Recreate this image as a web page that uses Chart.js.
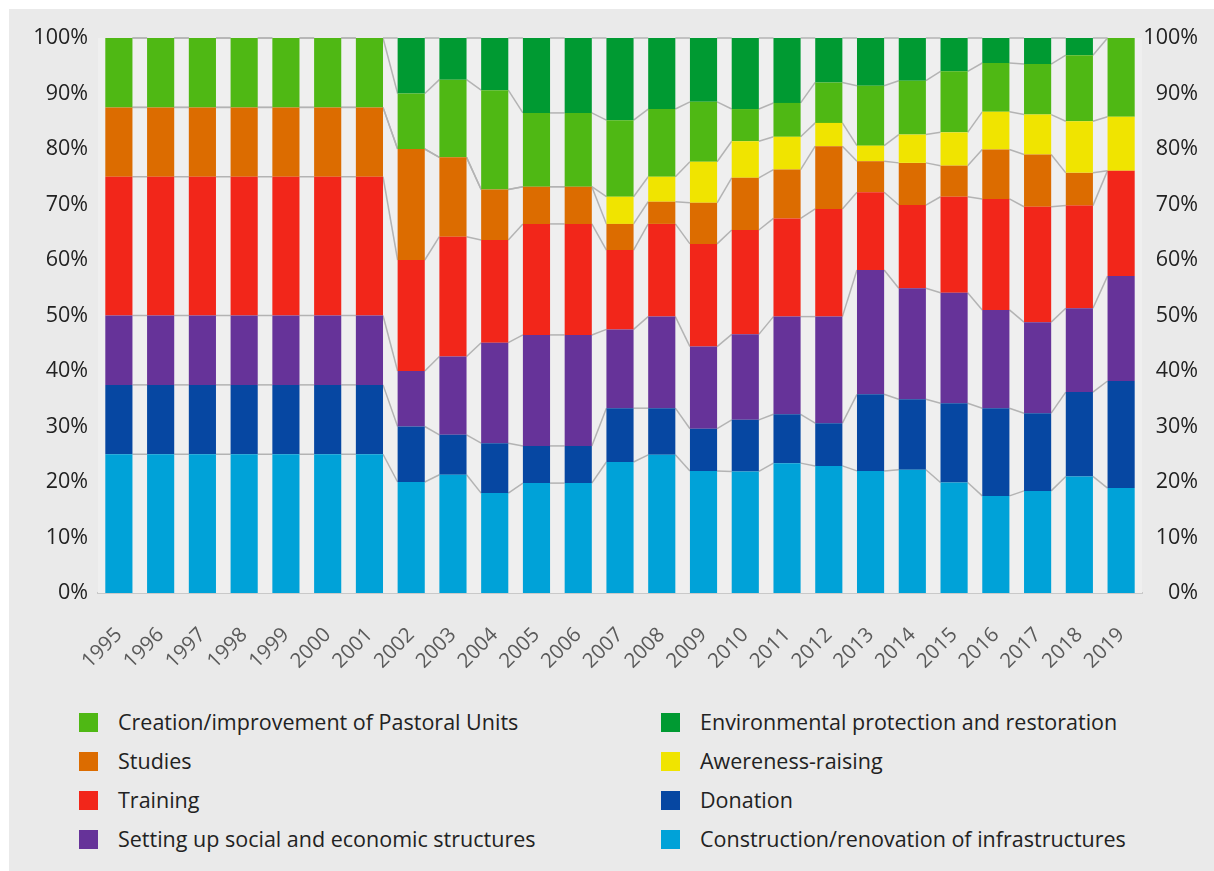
<!DOCTYPE html>
<html><head><meta charset="utf-8">
<script src="https://cdn.jsdelivr.net/npm/chart.js@4.4.1/dist/chart.umd.min.js"></script>
<style>
html,body{margin:0;padding:0;background:#fff;width:1214px;height:871px;overflow:hidden;}
#bg{position:absolute;left:9px;top:9px;width:1205px;height:862px;background:#eaeaea;}
#wrap{position:absolute;left:0;top:0;width:1214px;height:700px;}
.leg{position:absolute;font-family:'Open Sans';font-size:21.5px;color:#222;line-height:26px;white-space:nowrap;}
.sw{position:absolute;width:19px;height:19px;}
</style></head>
<body>
<div id="bg"></div>
<div id="wrap"><canvas id="c" width="1214" height="700"></canvas></div>
<div id="legend"></div>
<script>
const years = ['1995','1996','1997','1998','1999','2000','2001','2002','2003','2004','2005','2006','2007','2008','2009','2010','2011','2012','2013','2014','2015','2016','2017','2018','2019'];
const yTicks = ['0%','10%','20%','30%','40%','50%','60%','70%','80%','90%','100%'];

const construction = [25,25,25,25,25,25,25,20,21.3,18,19.8,19.8,23.6,24.9,22,21.9,23.4,22.9,22,22.2,19.9,17.5,18.4,21,18.9];
const donation     = [12.5,12.5,12.5,12.5,12.5,12.5,12.5,10,7.2,9,6.7,6.7,9.7,8.4,7.6,9.3,8.8,7.7,13.8,12.7,14.3,15.8,14,15.2,19.3];
const settingUp    = [12.5,12.5,12.5,12.5,12.5,12.5,12.5,10,14.1,18.1,20,20,14.2,16.5,14.8,15.4,17.6,19.2,22.4,20,19.9,17.7,16.4,15.1,18.9];
const training     = [25,25,25,25,25,25,25,20,21.6,18.5,20,20,14.3,16.7,18.5,18.8,17.7,19.4,14,15,17.3,20,20.8,18.5,19];
const studies      = [12.5,12.5,12.5,12.5,12.5,12.5,12.5,20,14.3,9.1,6.7,6.7,4.7,4.0,7.4,9.4,8.8,11.3,5.6,7.6,5.6,8.9,9.4,5.9,0];
const awareness    = [0,0,0,0,0,0,0,0,0,0,0,0,4.9,4.5,7.4,6.6,5.9,4.2,2.8,5.1,6,6.8,7.2,9.3,9.7];
const pastoral     = [12.5,12.5,12.5,12.5,12.5,12.5,12.5,10,14,17.9,13.3,13.3,13.8,12.2,10.8,5.8,6.1,7.3,10.8,9.7,11,8.8,9.1,11.9,14.2];
const environment  = [0,0,0,0,0,0,0,10,7.5,9.4,13.5,13.5,14.8,12.8,11.5,12.8,11.7,8,8.6,7.7,6,4.5,4.7,3.1,0];

const seriesNames = ['Construction/renovation of infrastructures','Donation','Setting up social and economic structures','Training','Studies','Awereness-raising','Creation/improvement of Pastoral Units','Environmental protection and restoration'];
const seriesColors = ['#00a2d8','#0647a2','#663399','#f2261a','#dc6c00','#f0e400','#4fb814','#009a32'];
const seriesData = [construction,donation,settingUp,training,studies,awareness,pastoral,environment];

const legendLeft = [6,4,3,2];
const legendRight = [7,5,1,0];

const FONT = 'Open Sans';

const connectors = {
  id:'connectors',
  beforeDatasetsDraw(chart){
    const ctx = chart.ctx, a = chart.chartArea;
    ctx.save();
    ctx.fillStyle = '#efefef';
    ctx.fillRect(a.left, a.top, a.right-a.left, a.bottom-a.top);
    ctx.strokeStyle = '#b3b3b3';
    ctx.lineWidth = 1.5;
    chart.data.datasets.forEach((ds, d) => {
      const meta = chart.getDatasetMeta(d);
      for (let i = 0; i < meta.data.length - 1; i++) {
        const e1 = meta.data[i], e2 = meta.data[i+1];
        ctx.beginPath();
        ctx.moveTo(e1.x + e1.width/2, e1.y);
        ctx.lineTo(e2.x - e2.width/2, e2.y);
        ctx.stroke();
      }
    });
    ctx.restore();
  }
};

const yCommon = {
  type:'linear', stacked:true, min:0, max:100,
  grid:{display:false, drawTicks:false},
  border:{display:false},
  ticks:{stepSize:10, padding:10, color:'#222', font:{family:FONT,size:21.5},
         callback:(v)=>yTicks[Math.round(v/10)]}
};

new Chart(document.getElementById('c'), {
  type:'bar',
  data:{
    labels:years,
    datasets:seriesData.map((d,i)=>({label:seriesNames[i], data:d, backgroundColor:seriesColors[i], borderWidth:0, categoryPercentage:1, barPercentage:0.65, yAxisID:'y'}))
  },
  options:{
    responsive:false, animation:false,
    layout:{padding:{left:0,right:16,top:38,bottom:0}},
    plugins:{legend:{display:false}, tooltip:{enabled:false}},
    scales:{
      x:{stacked:true, grid:{display:false, drawTicks:false}, border:{display:true,color:'#c9c9c9',width:2},
         ticks:{autoSkip:false, minRotation:45, maxRotation:45, padding:30, color:'#5a5a5a', font:{family:FONT,size:20.5}},
         afterFit(s){ s.height = 107; }},
      y:Object.assign({position:'left', afterFit(s){ s.width = 98; }}, yCommon),
      y2:Object.assign({}, yCommon, {position:'right', ticks:Object.assign({}, yCommon.ticks, {crossAlign:'far'}), afterFit(s){ s.width = 56; }})
    }
  },
  plugins:[connectors]
});

const leg = document.getElementById('legend');
const rowY = [713, 752, 791, 830];
function addItem(idx, boxX, textX, y){
  const b = document.createElement('div');
  b.className='sw'; b.style.left=boxX+'px'; b.style.top=y+'px'; b.style.background=seriesColors[idx];
  leg.appendChild(b);
  const t = document.createElement('div');
  t.className='leg'; t.style.left=textX+'px'; t.style.top=(y-4)+'px'; t.textContent=seriesNames[idx];
  leg.appendChild(t);
}
legendLeft.forEach((idx,r)=>addItem(idx,79,118,rowY[r]));
legendRight.forEach((idx,r)=>addItem(idx,661,700,rowY[r]));
</script>
</body></html>
